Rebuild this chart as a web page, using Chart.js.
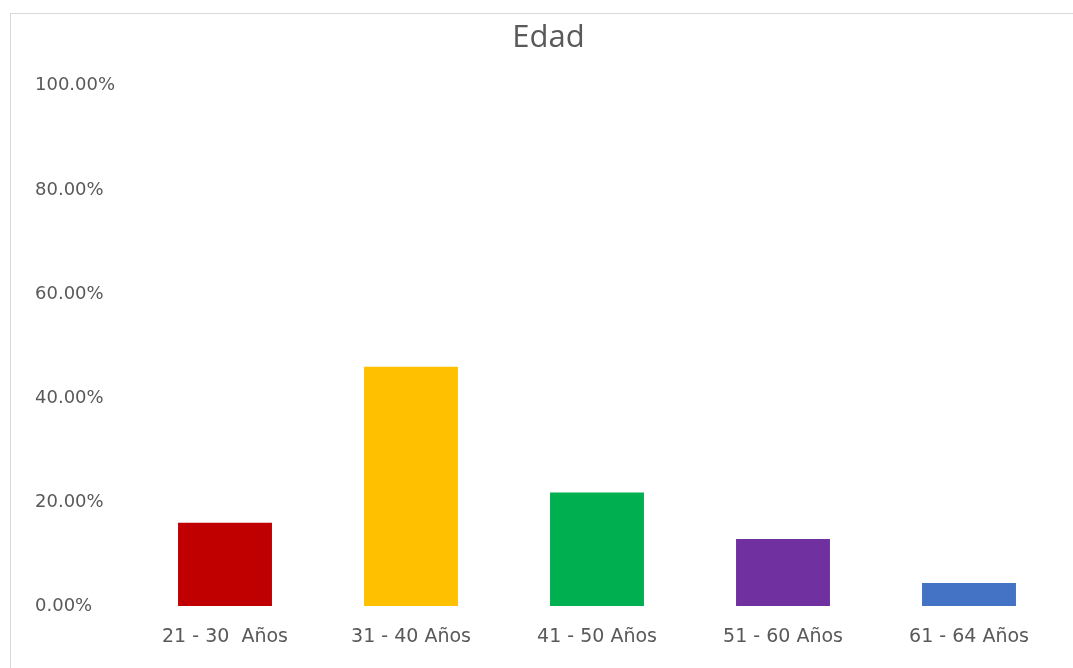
<!DOCTYPE html>
<html lang="es">
<head>
  <meta charset="UTF-8">
  <title>Edad</title>
  <script src="https://cdn.jsdelivr.net/npm/chart.js@4.4.1/dist/chart.umd.min.js"></script>
  <style>
    html, body { margin: 0; padding: 0; background: #fff; }
    .frame {
      position: absolute; left: 10px; top: 13px; width: 1080px; height: 700px;
      border-left: 1px solid #d9d9d9; border-top: 1px solid #d9d9d9;
    }
    .wrap { position: absolute; left: 0; top: 0; width: 1073px; height: 668px; }
  </style>
</head>
<body>
  <div class="frame"></div>
  <div class="wrap"><canvas id="chart"></canvas></div>

  <script>
    const labels = ['21 - 30  Años', '31 - 40 Años', '41 - 50 Años', '51 - 60 Años', '61 - 64 Años'];
    const values = [0.160, 0.460, 0.218, 0.129, 0.044];
    const colors = ['#c00000', '#ffc000', '#00b050', '#7030a0', '#4472c4'];

    const textColor = '#595959';
    const font = "'DejaVu Sans', sans-serif";

    new Chart(document.getElementById('chart'), {
      type: 'bar',
      data: {
        labels: labels,
        datasets: [{
          label: 'Edad',
          data: values,
          backgroundColor: colors,
          categoryPercentage: 1,
          barPercentage: 0.505
        }]
      },
      options: {
        responsive: true,
        maintainAspectRatio: false,
        animation: false,
        layout: { padding: { left: 35, right: 11, top: 0, bottom: 0 } },
        plugins: {
          legend: { display: false },
          tooltip: { enabled: false },
          title: {
            display: true,
            text: 'Edad',
            color: textColor,
            font: { family: "'Open Sans', sans-serif", size: 31, weight: 'normal' },
            padding: { top: 20, bottom: 28.6 }
          }
        },
        scales: {
          y: {
            min: 0,
            max: 1,
            grid: { display: false },
            border: { display: false },
            ticks: {
              stepSize: 0.2,
              crossAlign: 'far',
              color: textColor,
              font: { family: font, size: 18 },
              callback: (v) => (v * 100).toFixed(2) + '%'
            },
            afterFit: (scale) => { scale.width = 97; }
          },
          x: {
            grid: { display: false },
            border: { display: false },
            ticks: {
              color: textColor,
              font: { family: font, size: 19 },
              padding: 12,
              maxRotation: 0
            },
            afterFit: (scale) => { scale.height = 62; }
          }
        }
      }
    });
  </script>
</body>
</html>
